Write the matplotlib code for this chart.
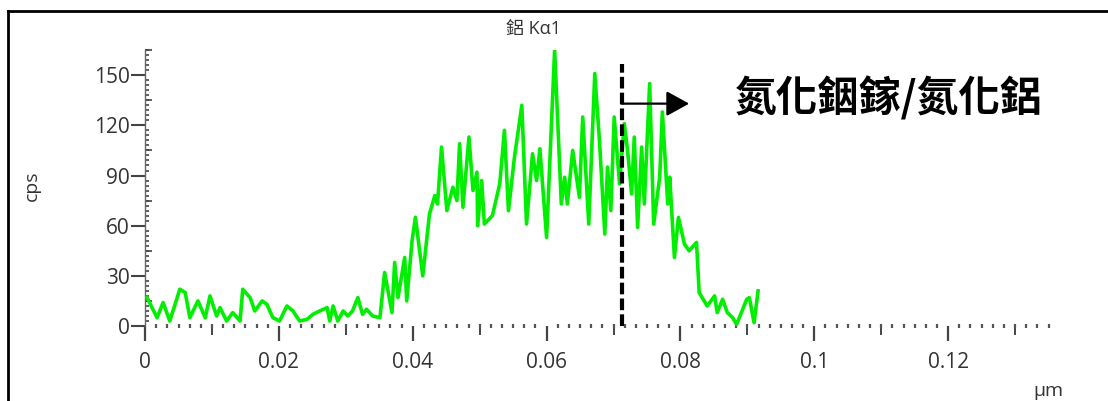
import matplotlib
matplotlib.use("Agg")
import matplotlib.pyplot as plt
from matplotlib.lines import Line2D
from matplotlib.ticker import MultipleLocator, NullFormatter
import numpy as np

plt.rcParams['font.family'] = ['Open Sans', 'Noto Sans CJK TC', 'DejaVu Sans']

# line scan, Al K-alpha1 (position in um, counts per second)
pos_um = [0.0003, 0.0018, 0.0027, 0.0037, 0.0052, 0.0060, 0.0067, 0.0079, 0.0090, 0.0097,
          0.0107, 0.0112, 0.0122, 0.0131, 0.0142, 0.0146, 0.0157, 0.0164, 0.0175, 0.0182,
          0.0191, 0.0201, 0.0212, 0.0221, 0.0231, 0.0242, 0.0251, 0.0261, 0.0272, 0.0276,
          0.0281, 0.0288, 0.0296, 0.0303, 0.0310, 0.0318, 0.0325, 0.0331, 0.0340, 0.0351,
          0.0358, 0.0369, 0.0373, 0.0378, 0.0388, 0.0391, 0.0399, 0.0404, 0.0415, 0.0425,
          0.0433, 0.0437, 0.0443, 0.0451, 0.0460, 0.0466, 0.0470, 0.0475, 0.0484, 0.0490,
          0.0496, 0.0497, 0.0503, 0.0507, 0.0519, 0.0530, 0.0537, 0.0543, 0.0552, 0.0563,
          0.0570, 0.0579, 0.0585, 0.0590, 0.0600, 0.0612, 0.0622, 0.0627, 0.0631, 0.0639,
          0.0649, 0.0654, 0.0663, 0.0672, 0.0679, 0.0687, 0.0691, 0.0696, 0.0701, 0.0709,
          0.0716, 0.0721, 0.0727, 0.0731, 0.0736, 0.0742, 0.0746, 0.0754, 0.0760, 0.0769,
          0.0773, 0.0781, 0.0784, 0.0791, 0.0797, 0.0806, 0.0813, 0.0824, 0.0828, 0.0840,
          0.0851, 0.0855, 0.0863, 0.0870, 0.0878, 0.0884, 0.0891, 0.0899, 0.0903, 0.0910,
          0.0916]
cps = [17, 5, 14, 3, 22, 20, 5, 15, 5, 18,
       6, 11, 3, 8, 3, 22, 17, 9, 15, 13,
       5, 3, 12, 9, 3, 4, 7, 9, 11, 3,
       12, 3, 9, 6, 9, 17, 7, 10, 6, 5,
       32, 8, 38, 17, 41, 15, 51, 65, 30, 67,
       78, 73, 107, 69, 83, 75, 109, 71, 113, 81,
       92, 60, 87, 61, 66, 85, 117, 69, 101, 132,
       61, 103, 87, 106, 53, 165, 73, 89, 73, 105,
       77, 125, 61, 151, 111, 55, 95, 69, 125, 85,
       121, 105, 79, 113, 59, 107, 73, 145, 61, 89,
       128, 73, 89, 41, 65, 49, 45, 50, 20, 12,
       18, 8, 16, 8, 5, 1, 8, 16, 17, 2,
       21]

boundary_um = 0.0712
boundary_top = 157
arrow_y = 133
arrow_end_um = 0.0813

fig = plt.figure(figsize=(11.08, 4.01), dpi=100)
ax = fig.add_axes([0.1309, 0.187, 0.8245, 0.688])

ax.plot(pos_um, cps, color='#00ee00', lw=2.6, zorder=3)
ax.set_xlim(0, 0.1365)
ax.set_ylim(0, 165)

for s in ['top', 'right', 'bottom']:
    ax.spines[s].set_visible(False)
ax.spines['left'].set_color('#666666')
ax.spines['left'].set_linewidth(1.0)

tick_col = '#444444'
ax.xaxis.set_major_locator(MultipleLocator(0.02))
ax.xaxis.set_minor_locator(MultipleLocator(0.01 / 6))
ax.xaxis.set_major_formatter(plt.FuncFormatter(lambda v, p: f'{v:g}'))
ax.tick_params(axis='x', which='major', direction='out', length=11, width=1.6,
               color=tick_col, labelsize=15, labelcolor='#333333', pad=8)
ax.tick_params(axis='x', which='minor', direction='inout', length=2.2, width=1.6,
               color='#555555')

ax.yaxis.set_major_locator(MultipleLocator(30))
ax.yaxis.set_minor_locator(MultipleLocator(3))
ax.tick_params(axis='y', which='major', direction='out', length=10, width=1.5,
               color=tick_col, labelsize=15, labelcolor='#333333', pad=1)
ax.tick_params(axis='y', which='minor', direction='in', length=3, width=1.2,
               color='#444444')

# medium ticks at 0.01 and 15 cps
secx = ax.secondary_xaxis('bottom')
secx.set_xticks(np.arange(0.01, 0.14, 0.02))
secx.xaxis.set_major_formatter(NullFormatter())
secx.tick_params(direction='out', length=6.5, width=1.4, color=tick_col)
secx.spines['bottom'].set_visible(False)

secy = ax.secondary_yaxis('left')
secy.set_yticks(np.arange(15, 166, 30))
secy.yaxis.set_major_formatter(NullFormatter())
secy.tick_params(direction='in', length=5, width=1.2, color='#444444')
secy.spines['left'].set_visible(False)

# boundary and arrow
ax.plot([boundary_um, boundary_um], [0, boundary_top], color='black', lw=3,
        ls=(0, (2.8, 1.0)), zorder=4)
ax.annotate('', xy=(arrow_end_um, arrow_y), xytext=(boundary_um, arrow_y),
            arrowprops=dict(arrowstyle='-|>,head_length=1.0,head_width=0.55',
                            mutation_scale=14, color='black', lw=1.6,
                            shrinkA=0, shrinkB=0), zorder=5)

fig.text(735 / 1108, 1 - 98 / 401, '氮化銦鎵/氮化鋁', fontsize=30, fontweight='bold',
         family=['Noto Sans CJK TC'], ha='left', va='center')

fig.text(534 / 1108, 1 - 29 / 401, '鋁 Kα1', fontsize=13, color='#333333',
         ha='center', va='center')
fig.text(32 / 1108, 1 - 186 / 401, 'cps', fontsize=14, color='#333333',
         rotation=90, ha='center', va='center')
fig.text(1048 / 1108, 1 - 391 / 401, 'µm', fontsize=14, color='#333333',
         ha='center', va='center')

# frame lines of the original picture
fig.add_artist(Line2D([8 / 1108, 1], [1 - 11 / 401, 1 - 11 / 401],
                      transform=fig.transFigure, color='black', lw=2))
fig.add_artist(Line2D([8 / 1108, 8 / 1108], [0, 1 - 11 / 401],
                      transform=fig.transFigure, color='black', lw=2))

fig.savefig('out.png', dpi=100)
